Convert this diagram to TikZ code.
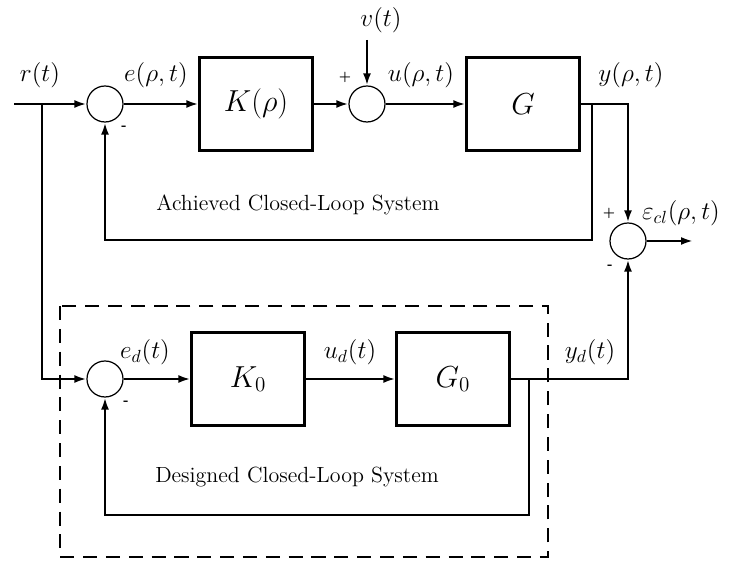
\documentclass[tikz,border=0pt]{standalone}
\usetikzlibrary{arrows.meta,positioning,calc}
\begin{document}
\begin{tikzpicture}[
    x=0.02cm, y=-0.02cm,
    arrow/.style={-{Latex[length=2.4mm,width=1.6mm]}, line width=1.3pt},
    frame/.style={line width=1.7pt, dash pattern=on 8pt off 5pt},
    block/.style={draw, line width=1.3pt, fill=white, minimum width=2.26cm, minimum height=1.86cm, font=\LARGE},
    sum/.style={draw, circle, line width=0.7pt, minimum size=0.72cm, inner sep=0pt},
    lbl/.style={font=\Large},
    sgn/.style={font=\scriptsize\bfseries},
    note/.style={font=\fontsize{12.5}{15}\selectfont}
]
\useasboundingbox (0,0) rectangle (738,563);

% achieved loop
\coordinate (in) at (14,104);
\coordinate (branch) at (42,104);
\node[sum] (sum1) at (105,104) {};
\node[block] (K) at (256,104) {$K(\rho)$};
\node[sum] (sum2) at (367,104) {};
\coordinate (vtop) at (367,40);
\node[block] (G) at (523,104) {$G$};
\coordinate (fbA) at (592,104);
\coordinate (fbB) at (592,240);
\node[sum] (sum3) at (628,241) {};
\coordinate (out) at (693,241);

% designed loop
\node[sum] (sum4) at (105,379) {};
\coordinate (branchd) at (42,379);
\node[block] (K0) at (248,379) {$K_0$};
\node[block] (G0) at (453,379) {$G_0$};
\coordinate (fbC) at (529,379);
\coordinate (fbD) at (529,515);

\draw[frame] (60,306) rectangle (548,557);

\draw[arrow] (in) -- (sum1);
\draw[arrow] (sum1) -- (K);
\draw[arrow] (K) -- (sum2);
\draw[arrow] (vtop) -- (sum2);
\draw[arrow] (sum2) -- (G);
\draw[arrow] (G.east) -| (sum3);
\draw[arrow] (fbA) -- (fbB) -| (sum1);
\draw[arrow] (sum3) -- (out);

\draw[arrow] (branch) -- (branchd) -- (sum4);
\draw[arrow] (sum4) -- (K0);
\draw[arrow] (K0) -- (G0);
\draw[arrow] (G0.east) -| (sum3);
\draw[arrow] (fbC) -- (fbD) -| (sum4);

% labels
\node[lbl] at (40,75) {$r(t)$};
\node[lbl] at (156,75) {$e(\rho,t)$};
\node[lbl] at (381,20) {$v(t)$};
\node[lbl] at (421,75) {$u(\rho,t)$};
\node[lbl] at (631,75) {$y(\rho,t)$};
\node[lbl] at (681,213) {$\varepsilon_{cl}(\rho,t)$};
\node[lbl] at (145,352) {$e_d(t)$};
\node[lbl] at (350,352) {$u_d(t)$};
\node[lbl] at (590,352) {$y_d(t)$};

\node[sgn] at (124,128) {-};
\node[sgn] at (345,77) {+};
\node[sgn] at (609,213) {+};
\node[sgn] at (610,267) {-};
\node[sgn] at (126,403) {-};

\node[note] at (298,205) {Achieved Closed-Loop System};
\node[note] at (297,477) {Designed Closed-Loop System};

\end{tikzpicture}
\end{document}
